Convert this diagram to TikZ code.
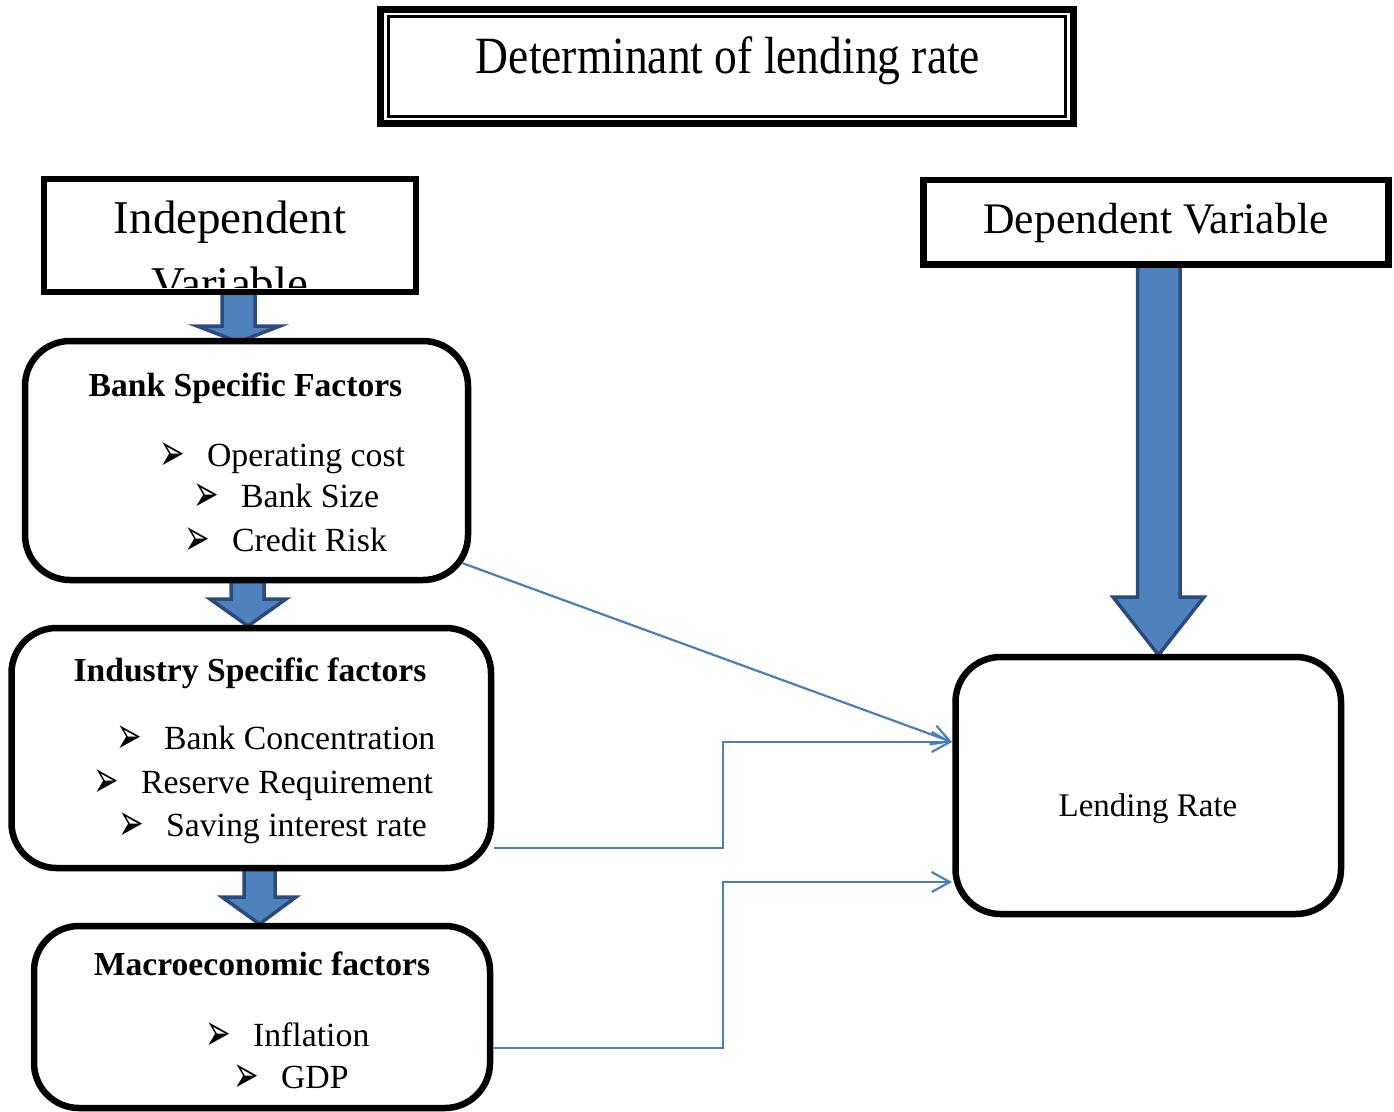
\documentclass[tikz,border=0pt]{standalone}
\usepackage{graphicx}
\usepackage{fontspec}
\setmainfont{Liberation Serif}
\newfontfamily\dejavu{DejaVu Sans}
\usetikzlibrary{arrows.meta}
\definecolor{fillblue}{HTML}{4F81BD}
\definecolor{edgeblue}{HTML}{2A4B7C}
\definecolor{lineblue}{HTML}{4A7EBB}
\newcommand\bulmark{{\dejavu\fontsize{36}{36}\selectfont ➢}}
\newcommand\itm[1]{\makebox[46pt][l]{\hspace{-2pt}\smash{\raisebox{-4pt}{\scalebox{0.85}[1.45]{\bulmark}}}}#1}
\begin{document}
\begin{tikzpicture}[x=1pt,y=-1pt,
  txt/.style={inner sep=0pt, outer sep=0pt, anchor=base},
  itemtxt/.style={inner sep=0pt, outer sep=0pt, anchor=base west, font=\fontsize{33.8}{40}\selectfont},
  headtxt/.style={inner sep=0pt, outer sep=0pt, anchor=base, font=\bfseries\fontsize{33.6}{40}\selectfont},
  rbox/.style={draw=black, line width=6.5pt, rounded corners=45pt, fill=white, inner sep=0pt, outer sep=0pt},
  sbox/.style={draw=black, line width=6.5pt, fill=white, inner sep=0pt, outer sep=0pt},
  blockarr/.style={fill=fillblue, draw=edgeblue, line width=3.5pt, line join=miter},
  conn/.style={draw=lineblue, line width=2.2pt, -{Straight Barb[length=18pt,width=20pt,line width=2.2pt]}}]
\useasboundingbox[fill=white] (0,0) rectangle (1394,1111);

% block arrows (drawn first, boxes cover their ends)
\draw[blockarr] (222,290) -- (255,290) -- (255,326) -- (280,326) -- (238.5,342) -- (197,326) -- (222,326) -- cycle;
\draw[blockarr] (231,575) -- (264,575) -- (264,599) -- (286,599) -- (248,626) -- (210,599) -- (231,599) -- cycle;
\draw[blockarr] (244,865) -- (275,865) -- (275,897) -- (296,897) -- (259.5,924) -- (222,897) -- (244,897) -- cycle;
\draw[blockarr] (1137.5,262) -- (1180,262) -- (1180,597) -- (1204,597) -- (1158.5,655) -- (1113,597) -- (1137.5,597) -- cycle;

% title
\node[draw=black, line width=7pt, fill=white, minimum width=693pt, minimum height=114pt, inner sep=0pt] (title) at (727,66.5) {};
\node[draw=black, line width=3pt, minimum width=677pt, minimum height=100pt, inner sep=0pt] (titlein) at (727,66.5) {};
\node[txt] (titletxt) at (728,73) {\scalebox{1}[1.15]{\fontsize{45.5}{50}\selectfont Determinant of lending rate}};

% independent / dependent
\node[sbox, minimum width=372pt, minimum height=113pt] (indep) at (230,235.5) {};
\begin{scope}
\clip (48,183) rectangle (412,287);
\node[txt, font=\fontsize{47}{50}\selectfont] (indep1) at (230,233) {Independent};
\node[txt, font=\fontsize{47}{50}\selectfont] (indep2) at (230,299) {Variable};
\end{scope}
\node[sbox, minimum width=465pt, minimum height=84.5pt] (dep) at (1156,222.25) {};
\node[txt, font=\fontsize{43.6}{50}\selectfont] (deptxt) at (1156,233) {Dependent Variable};

% bank specific
\node[rbox, minimum width=443pt, minimum height=239pt] (bank) at (246.5,460.5) {};
\node[headtxt] (bankh) at (245.5,396) {Bank Specific Factors};
\node[itemtxt] (b1) at (161,466) {\itm{Operating cost}};
\node[itemtxt] (b2) at (195,507) {\itm{Bank Size}};
\node[itemtxt] (b3) at (186,551) {\itm{Credit Risk}};

% industry specific
\node[rbox, minimum width=479.5pt, minimum height=240pt] (ind) at (251.25,748) {};
\node[headtxt] (indh) at (250,681) {Industry Specific factors};
\node[itemtxt] (i1) at (118,749) {\itm{Bank Concentration}};
\node[itemtxt] (i2) at (95,793) {\itm{Reserve Requirement}};
\node[itemtxt] (i3) at (120,836) {\itm{Saving interest rate}};

% macroeconomic
\node[rbox, minimum width=456pt, minimum height=182pt] (mac) at (262,1017) {};
\node[headtxt] (mach) at (262,975) {Macroeconomic factors};
\node[itemtxt] (m1) at (207,1046) {\itm{Inflation}};
\node[itemtxt] (m2) at (235,1088) {\itm{GDP}};

% lending rate
\node[rbox, minimum width=385.5pt, minimum height=257pt] (lend) at (1148.25,785.5) {};
\node[txt, font=\fontsize{33}{40}\selectfont] (lendtxt) at (1148,816) {Lending Rate};

% connectors
\coordinate (s1) at (462,563);
\coordinate (s2) at (494,848);
\coordinate (s3) at (494,1048);
\coordinate (e1) at (952,742);
\coordinate (e3) at (952,882);
\draw[conn] (s1) -- (e1);
\draw[conn] (s2) -- (723,848) -- (723,742) -- (e1);
\draw[conn] (s3) -- (723,1048) -- (723,882) -- (e3);
\end{tikzpicture}
\end{document}
